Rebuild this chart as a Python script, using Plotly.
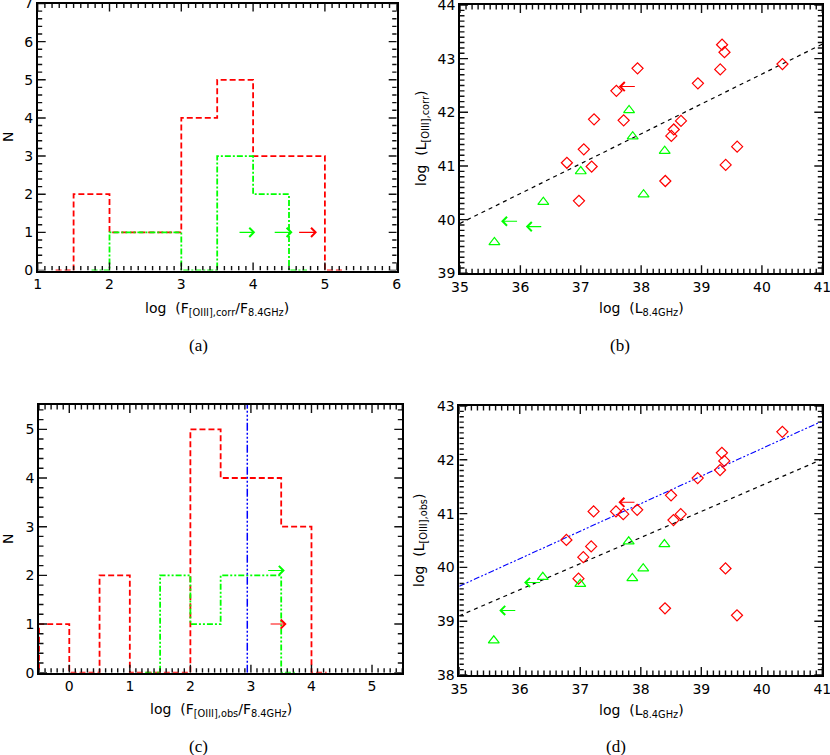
import numpy as np
import plotly.graph_objects as go

# ---- data ----
# (a) histogram of log(F[OIII],corr / F8.4GHz), bin centres and counts
a_red_x = [1.25, 1.75, 2.25, 2.75, 3.25, 3.75, 4.25, 4.75, 5.25]
a_red_n = [0, 2, 1, 1, 4, 5, 3, 3, 0]
a_green_x = [1.75, 2.25, 2.75, 3.25, 3.75, 4.25, 4.75]
a_green_n = [0, 1, 1, 0, 3, 2, 0]
# lower limits (arrows): tail x, head x, y
a_arrows_green = [(3.79, 4.03, 1), (4.28, 4.55, 1)]
a_arrows_red = [(4.62, 4.89, 1)]

# (c) histogram of log(F[OIII],obs / F8.4GHz)
c_red_x = [-0.75, -0.25, 0.25, 0.75, 1.25, 1.75, 2.25, 2.75, 3.25, 3.75, 4.25]
c_red_n = [0, 1, 0, 2, 0, 0, 5, 4, 4, 3, 0]
c_green_x = [1.25, 1.75, 2.25, 2.75, 3.25, 3.75]
c_green_n = [0, 2, 1, 2, 2, 0]
c_median = 2.94
c_arrows_green = [(3.26, 3.56, 2.1)]
c_arrows_red = [(3.30, 3.59, 1)]

# (b)/(d) log L8.4GHz for both samples
red_lrad = [40.34, 39.34, 39.38, 39.31, 38.94, 37.94, 37.59, 37.22, 37.71, 38.66,
            38.54, 38.50, 37.05, 36.77, 37.18, 36.97, 38.40, 39.59, 39.40]
red_loiii_corr = [42.90, 43.26, 43.12, 42.80, 42.54, 42.82, 42.40, 41.87, 41.85, 41.84,
                  41.68, 41.56, 41.31, 41.06, 40.99, 40.35, 40.72, 41.36, 41.02]
red_loiii_obs = [42.52, 42.13, 41.98, 41.81, 41.66, 41.07, 41.04, 41.04, 40.99, 40.99,
                 40.88, 41.34, 40.19, 40.51, 40.39, 39.79, 39.24, 39.11, 39.98]
green_lrad = [37.80, 37.86, 38.39, 37.00, 38.04, 36.38, 35.57]
green_loiii_corr = [42.04, 41.55, 41.28, 40.90, 40.47, 40.33, 39.58]
green_loiii_obs = [40.48, 39.80, 40.43, 39.69, 39.98, 39.82, 38.64]
# upper limits: tail x, head x, y
b_arrows_red = [(37.92, 37.63, 42.48)]
b_arrows_green = [(35.97, 35.68, 39.97), (36.37, 36.09, 39.87)]
d_arrows_red = [(37.92, 37.63, 41.21)]
d_arrows_green = [(36.36, 36.07, 39.72), (35.95, 35.66, 39.20)]

fit_x = [35, 41]
fit_b_y = [39.93, 43.27]
fit_d_y = [39.10, 42.01]
fit_d_blue_y = [39.65, 42.72]

RED = "#ff0000"
GREEN = "#00ff00"
BLUE = "#0000ff"
FONT = "DejaVu Sans"

# panel frames in pixels: left, right, top, bottom ; axis ranges ; minor steps
panels = {
    "":  dict(px=(37.7, 396.7, 3.5, 270.5), xr=[1, 6], yr=[0, 7], xm=0.1, ym=0.2),
    "2": dict(px=(460, 822.3, 5, 273.3), xr=[35, 41], yr=[39, 44], xm=0.1, ym=0.1),
    "3": dict(px=(39, 402.3, 405, 672.7), xr=[-0.5, 5.5], yr=[0, 5.5], xm=0.1, ym=0.2),
    "4": dict(px=(459.3, 822.3, 406, 675), xr=[35, 41], yr=[38, 43], xm=0.1, ym=0.1),
}

fig = go.Figure()

def hist(x, n, color, dash, ax):
    fig.add_trace(go.Scatter(x=x, y=n, mode="lines", line_shape="hvh",
                             line=dict(color=color, dash=dash, width=1.8),
                             xaxis="x" + ax, yaxis="y" + ax))

hist(a_red_x, a_red_n, RED, "6px,3px", "")
hist(a_green_x, a_green_n, GREEN, "6px,2px,2px,2px", "")
hist(c_red_x, c_red_n, RED, "6px,3px", "3")
hist(c_green_x, c_green_n, GREEN, "6px,2px,2px,2px,2px,2px", "3")
fig.add_trace(go.Scatter(x=[c_median, c_median], y=[0, 5.5], mode="lines",
                         line=dict(color=BLUE, dash="8px,2px,2px,2px,2px,2px,2px,2px", width=1.5),
                         xaxis="x3", yaxis="y3"))

def scatter(x, y, symbol, color, ax, size):
    fig.add_trace(go.Scatter(x=x, y=y, mode="markers",
                             marker=dict(symbol=symbol, size=size, color=color,
                                         line=dict(color=color, width=1.2)),
                             xaxis="x" + ax, yaxis="y" + ax))

fig.add_trace(go.Scatter(x=fit_x, y=fit_b_y, mode="lines",
                         line=dict(color="black", dash="4px,4px", width=1.2),
                         xaxis="x2", yaxis="y2"))
scatter(red_lrad, red_loiii_corr, "diamond-open", RED, "2", 8.5)
scatter(green_lrad, green_loiii_corr, "triangle-up-open", GREEN, "2", 9.5)

fig.add_trace(go.Scatter(x=fit_x, y=fit_d_y, mode="lines",
                         line=dict(color="black", dash="4px,4px", width=1.2),
                         xaxis="x4", yaxis="y4"))
fig.add_trace(go.Scatter(x=fit_x, y=fit_d_blue_y, mode="lines",
                         line=dict(color=BLUE, dash="6px,2px,2px,2px,2px,2px", width=1.1),
                         xaxis="x4", yaxis="y4"))
scatter(red_lrad, red_loiii_obs, "diamond-open", RED, "4", 8.5)
scatter(green_lrad, green_loiii_obs, "triangle-up-open", GREEN, "4", 9.5)

# ---- IDL style inside ticks on all four sides: one SVG path shape per panel ----
def tick_positions(rng, step):
    start = np.ceil(rng[0] / step - 1e-6) * step
    return [float(v) for v in np.round(np.arange(start, rng[1] + 1e-6, step), 6)]

shapes = []
for ax, p in panels.items():
    l, r, t, b = p["px"]
    xr, yr = p["xr"], p["yr"]
    ux = (xr[1] - xr[0]) / (r - l)
    uy = (yr[1] - yr[0]) / (b - t)
    parts = []
    for v in tick_positions(xr, p["xm"]):
        n = 8 if abs(v - round(v)) < 1e-6 else 4.5
        parts.append(f"M{v:.4f},{yr[0]:.5f}L{v:.4f},{yr[0] + n * uy:.5f}")
        parts.append(f"M{v:.4f},{yr[1]:.5f}L{v:.4f},{yr[1] - n * uy:.5f}")
    for v in tick_positions(yr, p["ym"]):
        n = 8 if abs(v - round(v)) < 1e-6 else 4.5
        parts.append(f"M{xr[0]:.5f},{v:.4f}L{xr[0] + n * ux:.5f},{v:.4f}")
        parts.append(f"M{xr[1]:.5f},{v:.4f}L{xr[1] - n * ux:.5f},{v:.4f}")
    shapes.append(dict(type="path", path="".join(parts), xref="x" + ax, yref="y" + ax,
                       line=dict(color="#111111", width=1.4), layer="above"))

annotations = []

def arrows(lst, color, ax):
    for tail, head, y in lst:
        annotations.append(dict(x=head, y=y, ax=tail, ay=y, xref="x" + ax, yref="y" + ax,
                                axref="x" + ax, ayref="y" + ax, text="", showarrow=True,
                                arrowhead=4, arrowsize=1.6, arrowwidth=1.1, arrowcolor=color))

arrows(a_arrows_green, GREEN, "")
arrows(a_arrows_red, RED, "")
arrows(c_arrows_green, GREEN, "3")
arrows(c_arrows_red, RED, "3")
arrows(b_arrows_red, RED, "2")
arrows(b_arrows_green, GREEN, "2")
arrows(d_arrows_red, RED, "4")
arrows(d_arrows_green, GREEN, "4")

def label(text, px, py, angle=0, size=14, family=FONT):
    annotations.append(dict(text=text, x=px / 830, y=1 - py / 755, xref="paper", yref="paper",
                            showarrow=False, textangle=angle, xanchor="center", yanchor="middle",
                            font=dict(family=family, size=size, color="black")))

label("log  (F<sub>[OIII],corr</sub>/F<sub>8.4GHz</sub>)", 217, 309)
label("log  (L<sub>8.4GHz</sub>)", 641, 309)
label("log  (F<sub>[OIII],obs</sub>/F<sub>8.4GHz</sub>)", 221, 710)
label("log  (L<sub>8.4GHz</sub>)", 641, 711)
label("N", 8, 137, -90)
label("N", 8, 539, -90)
label("log  (L<sub>[OIII],corr</sub>)", 422, 139, -90)
label("log  (L<sub>[OIII],obs</sub>)", 420, 540, -90)
for t, px, py in [("(a)", 198, 346), ("(b)", 620, 346), ("(c)", 198, 746), ("(d)", 616, 746)]:
    label(t, px, py, size=17, family="Liberation Serif")

layout_axes = {}
for ax, p in panels.items():
    l, r, t, b = p["px"]
    ex = (p["xr"][1] - p["xr"][0]) * 1e-7
    ey = (p["yr"][1] - p["yr"][0]) * 1e-7
    common = dict(showgrid=False, zeroline=False, showline=True, linecolor="black",
                  linewidth=1.5, mirror=True, ticks="", automargin=False,
                  ticklabeloverflow="allow", tickmode="linear", tick0=0, dtick=1,
                  tickfont=dict(family=FONT, size=14, color="black"))
    layout_axes["xaxis" + ax] = dict(common, domain=[l / 830, r / 830], anchor="y" + ax,
                                     range=[p["xr"][0] - ex, p["xr"][1] + ex])
    layout_axes["yaxis" + ax] = dict(common, domain=[1 - b / 755, 1 - t / 755], anchor="x" + ax,
                                     range=[p["yr"][0] - ey, p["yr"][1] + ey])

fig.update_layout(
    width=830, height=755, margin=dict(l=0, r=0, t=0, b=0, pad=0),
    paper_bgcolor="white", plot_bgcolor="white", showlegend=False,
    annotations=annotations, shapes=shapes, **layout_axes,
)

fig.write_html("out.html", config={"displayModeBar": False},
               post_script="document.body.style.margin='0px';")
